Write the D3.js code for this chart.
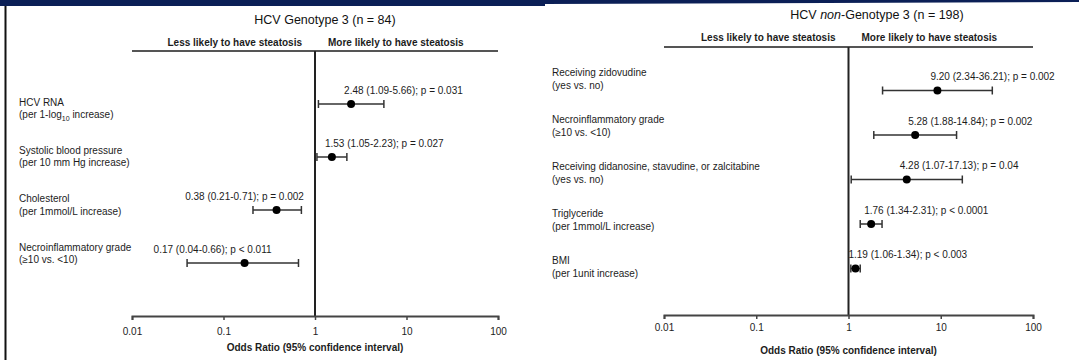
<!DOCTYPE html>
<html>
<head>
<meta charset="utf-8">
<script src="https://cdn.jsdelivr.net/npm/d3@7"></script>
<style>
  html, body { margin: 0; padding: 0; background: #fff; }
  svg { display: block; font-family: "Liberation Sans", Arial, sans-serif; }
</style>
</head>
<body>
<svg id="chart" width="1079" height="360"></svg>
<script>
// ---- Data: HCV genotype 3 ----
const g3Labels = ["HCV RNA", "Systolic blood pressure", "Cholesterol", "Necroinflammatory grade"];
const g3Sub = ["(per 1-log|10| increase)", "(per 10 mm Hg increase)", "(per 1mmol/L increase)", "(≥10 vs. <10)"];
const g3OR = [2.48, 1.53, 0.38, 0.17];
const g3Lo = [1.09, 1.05, 0.21, 0.04];
const g3Hi = [5.66, 2.23, 0.71, 0.66];
const g3P = ["p = 0.031", "p = 0.027", "p = 0.002", "p < 0.011"];

// ---- Data: HCV non-genotype 3 ----
const ngLabels = ["Receiving zidovudine", "Necroinflammatory grade", "Receiving didanosine, stavudine, or zalcitabine", "Triglyceride", "BMI"];
const ngSub = ["(yes vs. no)", "(≥10 vs. <10)", "(yes vs. no)", "(per 1mmol/L increase)", "(per 1unit increase)"];
const ngOR = [9.20, 5.28, 4.28, 1.76, 1.19];
const ngLo = [2.34, 1.88, 1.07, 1.34, 1.06];
const ngHi = [36.21, 14.84, 17.13, 2.31, 1.34];
const ngP = ["p = 0.002", "p = 0.002", "p = 0.04", "p < 0.0001", "p < 0.003"];

// ---- Axis ----
const tickValues = [0.01, 0.1, 1, 10, 100];
const tickLabels = ["0.01", "0.1", "1", "10", "100"];
const axisTitle = "Odds Ratio (95% confidence interval)";
const lessText = "Less likely to have steatosis";
const moreText = "More likely to have steatosis";

const svg = d3.select("#chart");
const ink = "#1c1c1c";

// slide header band and frame
svg.append("rect").attr("x", 0).attr("y", 0).attr("width", 545).attr("height", 6).attr("fill", "#0b1f56");
svg.append("path").attr("d", "M545,0 L1079,0 L1079,2 L545,4 Z").attr("fill", "#0b1f56");
svg.append("line").attr("x1", 5.5).attr("x2", 5.5).attr("y1", 6).attr("y2", 360)
  .attr("stroke", "#111").attr("stroke-width", 2);

function fmt(v) { return v.toFixed(2); }

function drawPanel(cfg) {
  const g = svg.append("g");
  const x = d3.scaleLog().domain([0.01, 100]).range([cfg.x0, cfg.x1]);
  const rows = d3.range(cfg.labels.length);
  const y = d3.scalePoint().domain(rows).range(cfg.rowRange).padding(1);
  const yl = d3.scalePoint().domain(rows).range(cfg.labelRange);

  // title
  const t = g.append("text").attr("x", cfg.titleX).attr("y", cfg.titleY)
    .attr("text-anchor", "middle").attr("font-size", 12.5).attr("fill", "#111");
  cfg.title.forEach(part => {
    t.append("tspan").text(part.t).attr("font-style", part.i ? "italic" : "normal");
  });

  // direction headers
  g.append("text").attr("x", x(1) - 13).attr("y", cfg.headY).attr("text-anchor", "end")
    .attr("font-size", 10).attr("font-weight", "bold").attr("fill", ink).text(lessText);
  g.append("text").attr("x", x(1) + 13).attr("y", cfg.headY).attr("text-anchor", "start")
    .attr("font-size", 10).attr("font-weight", "bold").attr("fill", ink).text(moreText);

  // header rule
  g.append("line").attr("x1", cfg.x0).attr("x2", cfg.x1).attr("y1", cfg.top).attr("y2", cfg.top)
    .attr("stroke", "#555").attr("stroke-width", 2);

  // reference line at OR = 1
  g.append("line").attr("x1", x(1)).attr("x2", x(1)).attr("y1", cfg.top).attr("y2", cfg.axisY)
    .attr("stroke", "#222").attr("stroke-width", 2);

  // x axis
  const ax = g.append("g").attr("transform", `translate(0,${cfg.axisY})`)
    .call(d3.axisBottom(x).tickValues(tickValues)
      .tickFormat((d, i) => tickLabels[i]).tickSize(4).tickSizeOuter(4).tickPadding(cfg.tickPad));
  ax.select(".domain").attr("stroke", "#444").attr("stroke-width", 2);
  ax.selectAll(".tick line").attr("stroke", "#444").attr("stroke-width", 1.5);
  ax.selectAll(".tick text").attr("font-size", 10).attr("fill", ink)
    .attr("font-family", "'Liberation Sans', Arial, sans-serif");
  g.append("text").attr("x", x(1)).attr("y", cfg.axisTitleY).attr("text-anchor", "middle")
    .attr("font-size", 10).attr("font-weight", "bold").attr("fill", ink).text(axisTitle);

  // row labels
  rows.forEach(i => {
    g.append("text").attr("x", cfg.labelX).attr("y", yl(i) + 3.5)
      .attr("font-size", 10).attr("fill", ink).text(cfg.labels[i]);
    const sub = g.append("text").attr("x", cfg.labelX).attr("y", yl(i) + 3.5 + cfg.subGap)
      .attr("font-size", 10).attr("fill", ink);
    const parts = cfg.sub[i].split("|");
    sub.append("tspan").text(parts[0]);
    if (parts.length > 1) {
      sub.append("tspan").attr("font-size", 7).attr("dy", 3).text(parts[1]);
      sub.append("tspan").attr("dy", -3).text(parts[2]);
    }
  });

  // confidence intervals
  rows.forEach(i => {
    const yy = y(i);
    g.append("line").attr("x1", x(cfg.lo[i])).attr("x2", x(cfg.hi[i])).attr("y1", yy).attr("y2", yy)
      .attr("stroke", "#333").attr("stroke-width", 1.5);
    [cfg.lo[i], cfg.hi[i]].forEach(v => {
      g.append("line").attr("x1", x(v)).attr("x2", x(v)).attr("y1", yy - 4).attr("y2", yy + 4)
        .attr("stroke", "#333").attr("stroke-width", 1.5);
    });
    g.append("circle").attr("cx", x(cfg.or[i])).attr("cy", yy).attr("r", 4).attr("fill", "#000");

    const label = `${fmt(cfg.or[i])} (${fmt(cfg.lo[i])}-${fmt(cfg.hi[i])}); ${cfg.p[i]}`;
    const right = cfg.or[i] >= 1;
    g.append("text")
      .attr("x", right ? x(cfg.or[i]) - 7 : x(cfg.or[i]) - 32)
      .attr("y", yy - 14 + 3.5)
      .attr("text-anchor", right ? "start" : "middle")
      .attr("font-size", 10).attr("fill", ink).text(label);
  });
}

drawPanel({
  title: [{ t: "HCV Genotype 3 (n = 84)" }],
  labels: g3Labels, sub: g3Sub, or: g3OR, lo: g3Lo, hi: g3Hi, p: g3P,
  x0: 132, x1: 498, top: 51, axisY: 316, rowRange: [51, 316], labelRange: [102, 247],
  titleX: 325, titleY: 24, headY: 46, labelX: 19, subGap: 12.5, tickPad: 8, axisTitleY: 351
});

drawPanel({
  title: [{ t: "HCV " }, { t: "non", i: true }, { t: "-Genotype 3 (n = 198)" }],
  labels: ngLabels, sub: ngSub, or: ngOR, lo: ngLo, hi: ngHi, p: ngP,
  x0: 664, x1: 1033, top: 47, axisY: 315, rowRange: [46, 313], labelRange: [72, 260],
  titleX: 877, titleY: 19, headY: 41, labelX: 552, subGap: 13, tickPad: 5, axisTitleY: 354
});
</script>
</body>
</html>
